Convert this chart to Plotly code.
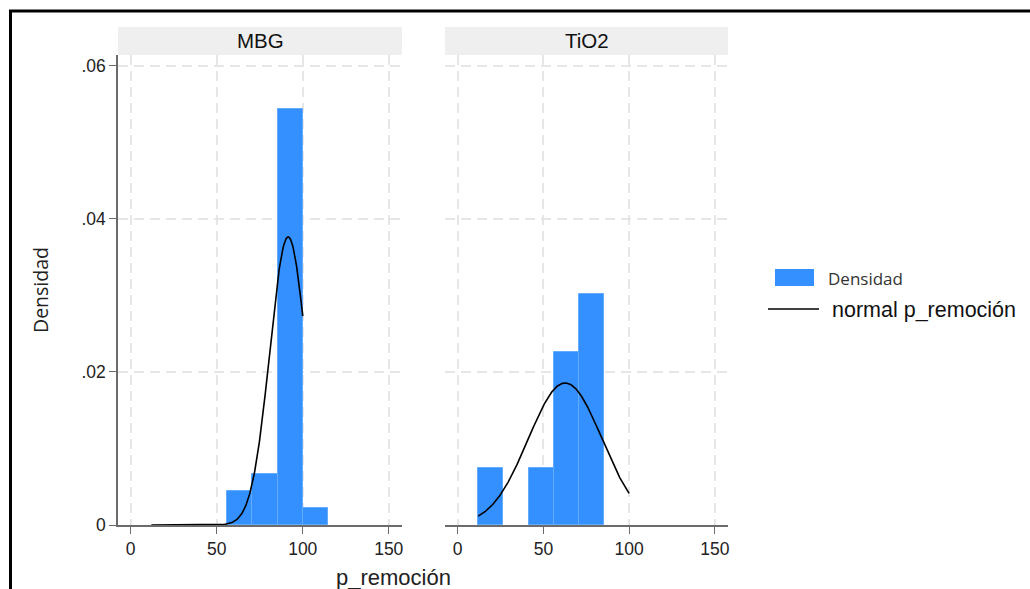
import numpy as np
import plotly.graph_objects as go

# Histogram bins shared by both groups (p_remoción)
bin_edges = [12.0, 26.67, 41.33, 56.0, 70.67, 85.33, 100.0, 114.67]

# Density per bin for each group
dens_mbg = [0.0, 0.0, 0.0, 0.0044, 0.0067, 0.0544, 0.0022]
dens_tio2 = [0.0074, 0.0, 0.0074, 0.0226, 0.0302, 0.0, 0.0]

# Fitted normal parameters per group and the range of the overlay
groups = ["MBG", "TiO2"]
normal_mean = {"MBG": 91.5, "TiO2": 62.7}
normal_sd = {"MBG": 10.6, "TiO2": 21.5}
curve_range = [12.0, 100.0]

x_ticks = [0, 50, 100, 150]
y_ticks = [0, 0.02, 0.04, 0.06]
y_ticktext = ["0", ".02", ".04", ".06"]

W, H = 1030, 589
BLUE = "#3590ff"
GRID = "#e6e6e6"
AXIS = "#6b6b6b"
TICKFONT = dict(family="Liberation Sans, Arial", size=17.5, color="#222222")


def px_x(p):
    return p / W


def px_y(p):
    return 1 - p / H


panel_x = {"MBG": (118, 402), "TiO2": (445, 728)}
plot_top, plot_bottom = 55, 525
strip_top = 27

fig = go.Figure()

edges = np.array(bin_edges)
mids = (edges[:-1] + edges[1:]) / 2
widths = np.diff(edges)

for i, (g, dens) in enumerate(zip(groups, [dens_mbg, dens_tio2])):
    ax = "" if i == 0 else str(i + 1)
    d = np.array(dens)
    keep = d > 0
    fig.add_trace(go.Bar(
        x=mids[keep], y=d[keep], width=widths[keep],
        marker=dict(color=BLUE, line=dict(color="#63abff", width=1)),
        xaxis="x" + ax, yaxis="y" + ax, showlegend=False,
    ))
    xs = np.linspace(curve_range[0], curve_range[1], 300)
    mu, sd = normal_mean[g], normal_sd[g]
    ys = np.exp(-0.5 * ((xs - mu) / sd) ** 2) / (sd * np.sqrt(2 * np.pi))
    fig.add_trace(go.Scatter(
        x=xs, y=ys, mode="lines", line=dict(color="black", width=1.6),
        xaxis="x" + ax, yaxis="y" + ax, showlegend=False,
    ))

axis_common_x = dict(
    range=[-7.4, 157.7], tickvals=x_ticks, ticktext=[str(t) for t in x_ticks],
    showgrid=True, gridcolor=GRID, griddash="10px,6px", gridwidth=1.5,
    zeroline=False, showline=True, linecolor=AXIS, linewidth=1.5,
    ticks="outside", ticklen=7, tickcolor=AXIS, tickwidth=1.3,
    tickfont=TICKFONT, fixedrange=True, automargin=False,
)
axis_common_y = dict(
    range=[0, 0.0614], tickvals=y_ticks, ticktext=y_ticktext,
    showgrid=True, gridcolor=GRID, griddash="10px,6px", gridwidth=1.5,
    zeroline=False, tickfont=TICKFONT, fixedrange=True, automargin=False,
)

ydom = [px_y(plot_bottom), px_y(plot_top)]
fig.update_layout(
    width=W, height=H, autosize=False,
    margin=dict(l=0, r=0, t=0, b=0, pad=0),
    paper_bgcolor="white", plot_bgcolor="white",
    bargap=0,
    xaxis=dict(domain=[px_x(panel_x["MBG"][0]), px_x(panel_x["MBG"][1])], anchor="y", **axis_common_x),
    xaxis2=dict(domain=[px_x(panel_x["TiO2"][0]), px_x(panel_x["TiO2"][1])], anchor="y2", **axis_common_x),
    yaxis=dict(domain=ydom, anchor="x", showline=True, linecolor=AXIS, linewidth=1.5,
               ticks="outside", ticklen=7, tickcolor=AXIS, tickwidth=1.3, **axis_common_y),
    yaxis2=dict(domain=ydom, anchor="x2", showline=False, showticklabels=False, ticks="", **axis_common_y),
    showlegend=False,
)

shapes = []
annotations = []

# Panel strips with group names
for g in groups:
    x0, x1 = panel_x[g]
    shapes.append(dict(type="rect", xref="paper", yref="paper",
                       x0=px_x(x0), x1=px_x(x1), y0=px_y(plot_top), y1=px_y(strip_top),
                       fillcolor="#efefef", line=dict(width=0), layer="below"))
    annotations.append(dict(text=g, xref="paper", yref="paper",
                            x=px_x((x0 + x1) / 2), y=px_y((strip_top + plot_top) / 2),
                            showarrow=False, xanchor="center", yanchor="middle",
                            font=dict(family="Liberation Sans, Arial", size=20.5, color="#111111")))

# Axis titles
annotations.append(dict(text="Densidad", xref="paper", yref="paper", x=px_x(40), y=px_y(290),
                        textangle=-90, showarrow=False, xanchor="center", yanchor="middle",
                        font=dict(family="Open Sans", size=19.5, color="#222222")))
annotations.append(dict(text="p_remoción", xref="paper", yref="paper", x=px_x(393), y=px_y(577),
                        showarrow=False, xanchor="center", yanchor="middle",
                        font=dict(family="Liberation Sans, Arial", size=22, color="#222222")))

# Legend: bar swatch and line sample
shapes.append(dict(type="rect", xref="paper", yref="paper",
                   x0=px_x(775), x1=px_x(814), y0=px_y(286), y1=px_y(269),
                   fillcolor=BLUE, line=dict(width=0)))
annotations.append(dict(text="Densidad", xref="paper", yref="paper", x=px_x(826), y=px_y(279),
                        showarrow=False, xanchor="left", yanchor="middle",
                        font=dict(family="Open Sans", size=17, color="#333333")))
shapes.append(dict(type="line", xref="paper", yref="paper",
                   x0=px_x(768), x1=px_x(819), y0=px_y(309), y1=px_y(309),
                   line=dict(color="black", width=1.6)))
annotations.append(dict(text="normal p_remoción", xref="paper", yref="paper", x=px_x(830), y=px_y(310),
                        showarrow=False, xanchor="left", yanchor="middle",
                        font=dict(family="Liberation Sans, Arial", size=21.5, color="#111111")))

# Outer frame (top and left edges)
shapes.append(dict(type="line", xref="paper", yref="paper",
                   x0=px_x(9), x1=1.01, y0=px_y(11), y1=px_y(11),
                   line=dict(color="black", width=3)))
shapes.append(dict(type="line", xref="paper", yref="paper",
                   x0=px_x(10.5), x1=px_x(10.5), y0=px_y(11), y1=-0.01,
                   line=dict(color="black", width=3)))

fig.update_layout(shapes=shapes, annotations=annotations)
fig.write_html("out.html")
